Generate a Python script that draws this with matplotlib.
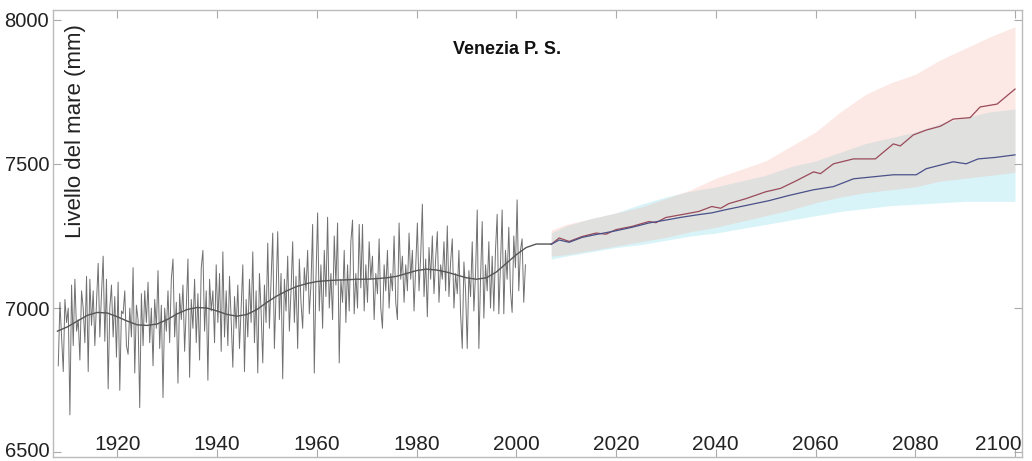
import numpy as np
import matplotlib
matplotlib.use("Agg")
import matplotlib.pyplot as plt
from matplotlib.transforms import ScaledTranslation

plt.rcParams['font.family'] = ['Liberation Sans', 'DejaVu Sans']

# ---------------- data ----------------
obs_start = 1908
# three readings per year, 1908 .. 2001
obs_values = [
    6800, 7020, 6900,  6780, 7030, 6950,  7000, 6630, 7080,  6870, 7100, 6920,
    6960, 6820, 7060,  7000, 6880, 7110,  6780, 7100, 6940,  7060, 6870, 7020,
    7155, 6900, 7050,  7180, 6885, 7100,  6720, 7000, 7080,  6900, 7040, 6830,
    7090, 6715, 6990,  6980, 7060, 6870,  6840, 7000, 6900,  7140, 6775, 7010,
    6960, 6655, 7050,  6870, 7060, 6950,  7090, 6880, 7000,  6800, 7030, 6930,
    7130, 6860, 7010,  6690, 7000, 6920,  7060, 6880, 7100,  7170, 6900, 7020,
    6740, 7050, 6960,  7080, 6850, 7000,  7170, 6760, 7030,  6930, 7100, 6880,
    7050, 6820, 7140,  7200, 6920, 7060,  6750, 7100, 6990,  7060, 6880, 7150,
    6950, 7120, 6850,  7195, 6900, 7060,  6870, 7110, 6960,  6795, 7040, 6930,
    7080, 6860, 7000,  7150, 6780, 7030,  6900, 7100, 6950,  7195, 6880, 7060,
    6775, 7120, 6990,  6810, 7080, 6950,  7225, 6930, 7090,  7260, 6860, 7050,
    7265, 6960, 7120,  6755, 7100, 6990,  7180, 6920, 7060,  7230, 6950, 7110,
    6860, 7170, 7020,  6930, 7140, 7060,  7200, 6980, 7080,  7290, 6775, 7100,
    7330, 6990, 7150,  6930, 7200, 7040,  7315, 7000, 7120,  6960, 7250, 7080,
    7295, 6810, 7100,  7020, 7200, 6950,  7150, 6990, 7230,  7305, 6980, 7120,
    7000, 7290, 7070,  7290, 6990, 7150,  7020, 7230, 7100,  7180, 6960, 7120,
    7050, 7240, 7000,  6930, 7150, 7060,  7200, 7000, 7120,  7060, 7250, 7020,
    6960, 7295, 7100,  7180, 7020, 7150,  7060, 7260, 7100,  7200, 6990, 7140,
    7295, 7060, 7180,  7360, 7040, 7170,  6970, 7210, 7100,  7250, 7050, 7170,
    7265, 7020, 7150,  7100, 7230, 7060,  7285, 7040, 7160,  7240, 7000, 7120,
    7050, 7200, 6980,  6860, 7160, 7060,  6860, 7130, 7040,  7230, 6990, 7120,
    7340, 6860, 7100,  7300, 6965, 7150,  7060, 7230, 7000,  7180, 6990, 7200,
    7325, 6980, 7150,  7340, 6980, 7200,  7100, 7280, 7060,  6985, 7250, 7140,
    7375, 7060, 7200,  7240, 7020, 7150,
]

smooth_years = [1908, 1910, 1912, 1914, 1916, 1918, 1920, 1922, 1924, 1926,
                1928, 1930, 1932, 1934, 1936, 1938, 1940, 1942, 1944, 1946,
                1948, 1950, 1952, 1954, 1956, 1958, 1960, 1962, 1964, 1966,
                1968, 1970, 1972, 1974, 1976, 1978, 1980, 1982, 1984, 1986,
                1988, 1990, 1992, 1994, 1996, 1998, 2000, 2002, 2004, 2006, 2007]
smooth_values = [6920, 6935, 6955, 6975, 6985, 6983, 6970, 6955, 6942, 6940,
                 6945, 6960, 6980, 6995, 7002, 7000, 6990, 6978, 6972, 6978,
                 6995, 7020, 7042, 7060, 7075, 7085, 7092, 7095, 7097, 7098,
                 7100, 7100, 7102, 7105, 7110, 7120, 7130, 7135, 7132, 7125,
                 7115, 7105, 7100, 7105, 7125, 7155, 7185, 7210, 7222, 7222, 7222]

red_years = [2007, 2008.6, 2010.6, 2013.2, 2016, 2018, 2020, 2023.2, 2026.6, 2028,
             2030, 2033.2, 2036.6, 2039.2, 2041, 2042.6, 2046, 2050, 2053, 2056,
             2059.6, 2061, 2063.6, 2067.6, 2072, 2075.6, 2077, 2079.6, 2082.2,
             2085, 2087.6, 2091, 2093, 2096.4, 2100]
red_values = [7221, 7243, 7231, 7248, 7260, 7256, 7272, 7283, 7300, 7296,
              7314, 7324, 7335, 7352, 7346, 7362, 7379, 7403, 7415, 7440,
              7472, 7466, 7500, 7517, 7517, 7569, 7562, 7600, 7617,
              7630, 7655, 7660, 7697, 7707, 7759]

blue_years = [2007, 2008.6, 2010.6, 2013.2, 2016, 2020, 2023.2, 2026.6, 2030, 2033.2,
              2036.6, 2039.2, 2042, 2047, 2050.6, 2054.6, 2059.6, 2063.6, 2067.6,
              2071.6, 2075.6, 2080.2, 2082.2, 2087.6, 2090.2, 2092.6, 2096, 2100]
blue_values = [7221, 7236, 7228, 7245, 7255, 7268, 7280, 7295, 7305, 7315,
               7324, 7330, 7341, 7359, 7372, 7390, 7410, 7421, 7448,
               7455, 7462, 7462, 7483, 7507, 7500, 7517, 7522, 7531]

band_years = [2007, 2010, 2015, 2020, 2025, 2030, 2035, 2040, 2045, 2050,
              2055, 2060, 2065, 2070, 2075, 2080, 2085, 2090, 2095, 2100]
red_hi  = [7270, 7290, 7310, 7330, 7350, 7380, 7410, 7450, 7480, 7510,
           7560, 7610, 7680, 7740, 7780, 7810, 7860, 7900, 7940, 7975]
red_lo  = [7180, 7185, 7200, 7215, 7230, 7245, 7265, 7280, 7300, 7320,
           7340, 7365, 7385, 7400, 7410, 7420, 7440, 7450, 7460, 7470]
blue_hi = [7260, 7285, 7310, 7330, 7360, 7385, 7405, 7420, 7440, 7460,
           7490, 7510, 7540, 7570, 7590, 7610, 7640, 7660, 7680, 7690]
blue_lo = [7170, 7180, 7195, 7210, 7220, 7235, 7250, 7260, 7275, 7290,
           7305, 7320, 7335, 7345, 7355, 7360, 7365, 7370, 7370, 7370]

x_ticks = [1920, 1940, 1960, 1980, 2000, 2020, 2040, 2060, 2080, 2100]
y_ticks = [6500, 7000, 7500, 8000]
title = "Venezia P. S."
ylabel = "Livello del mare (mm)"

# ---------------- figure ----------------
W, H = 1032, 461
fig = plt.figure(figsize=(W / 100, H / 100), dpi=100)
ax = fig.add_axes([53.3 / W, (H - 457) / H, (1022.3 - 53.3) / W, (457 - 10) / H])

n_obs = len(obs_values)
obs_t = [obs_start + (i + 0.5) / 3.0 for i in range(n_obs)]

ax.fill_between(band_years, blue_lo, blue_hi, color=(0.45, 0.86, 0.90), alpha=0.28, lw=0)
ax.fill_between(band_years, red_lo, red_hi, color=(0.97, 0.66, 0.60), alpha=0.26, lw=0)

ax.plot(obs_t, obs_values, color='#333333', lw=0.7, alpha=0.7)
ax.plot(smooth_years, smooth_values, color='#555555', lw=1.0)
ax.plot(red_years, red_values, color='#9a4a58', lw=0.9)
ax.plot(blue_years, blue_values, color='#4a5088', lw=0.9)

ax.set_xlim(1907.17, 2101.46)
ax.set_ylim(6484, 8033)

ax.set_yticks(y_ticks)
ax.set_yticklabels([str(v) for v in y_ticks], fontsize=14.5, color='#222222')
ax.set_xticks(x_ticks)
ax.set_xticklabels([])
ax.tick_params(axis='both', direction='in', length=6, color='#aaaaaa', width=0.8,
               top=True, right=True)
ax.tick_params(axis='y', pad=3)
# nudge the lowest y label slightly up so it stays inside the image
low_lab = ax.get_yticklabels()[0]
low_lab.set_transform(low_lab.get_transform() + ScaledTranslation(0, 3 / 100, fig.dpi_scale_trans))

xform = ax.get_xaxis_transform()
for xt in x_ticks:
    if xt == x_ticks[-1]:
        ax.text(0.999, 0.016, str(xt), transform=ax.transAxes,
                ha='right', va='baseline', fontsize=15, color='#222222')
    else:
        ax.text(xt, 0.016, str(xt), transform=xform,
                ha='center', va='baseline', fontsize=15, color='#222222')

for s in ax.spines.values():
    s.set_color('#bbbbbb')
    s.set_linewidth(1.0)

ax.text(0.4685, 0.912, title, transform=ax.transAxes, ha='center', va='center',
        fontsize=13, fontweight='bold', color='#111111')
ax.text(0.0227, 0.729, ylabel, transform=ax.transAxes, ha='center', va='center',
        rotation=90, fontsize=16, color='#222222')

fig.savefig("out.png", dpi=100)
